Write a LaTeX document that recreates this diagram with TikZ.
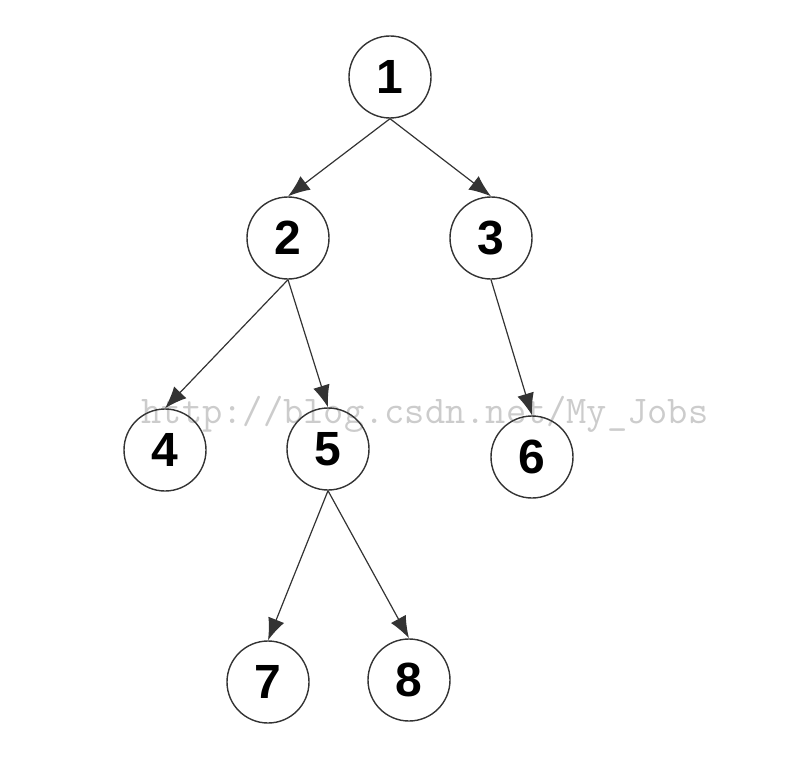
\documentclass[tikz,border=0pt]{standalone}
\usepackage{fontspec}
\setmainfont{Liberation Sans}
\usetikzlibrary{positioning,arrows.meta}

\begin{document}
\begin{tikzpicture}[x=1pt, y=-1pt, >={Latex[length=22pt,width=17pt]}, line width=1.4pt,
  every node/.style={draw=black!80,circle,minimum size=82pt,inner sep=0pt,font=\fontsize{48}{48}\selectfont\bfseries},
  edge/.style={->,draw=black!80,line width=1.2pt}]
  % Fixed canvas, same size as the reference
  \useasboundingbox (0,0) rectangle (794,778);

  % Faint watermark across the third row
\node[draw=none,circle=false,rectangle,minimum size=0pt,text=black!20,font=\ttfamily\fontsize{39.3}{39.3}\selectfont,anchor=base west] (mark) at (141,423) {http://blog.csdn.net/My\_Jobs};

  % Tree nodes, row by row
\node (n1) at (390,77) {1};

\node (n2) at (288,238) {2};
\node (n3) at (491,238) {3};

\node (n4) at (165,450) {4};
\node (n5) at (328,449) {5};
\node (n6) at (532,457) {6};

\node (n7) at (268,682) {7};
\node (n8) at (409,680) {8};

  % Parent to child links
  \draw[edge] (n1.south) -- (n2.north);
  \draw[edge] (n1.south) -- (n3.north);
  \draw[edge] (n2.south) -- (n4.north);
  \draw[edge] (n2.south) -- (n5.north);
  \draw[edge] (n3.south) -- (n6.north);
  \draw[edge] (n5.south) -- (n7.north);
  \draw[edge] (n5.south) -- (n8.north);
\end{tikzpicture}
\end{document}
